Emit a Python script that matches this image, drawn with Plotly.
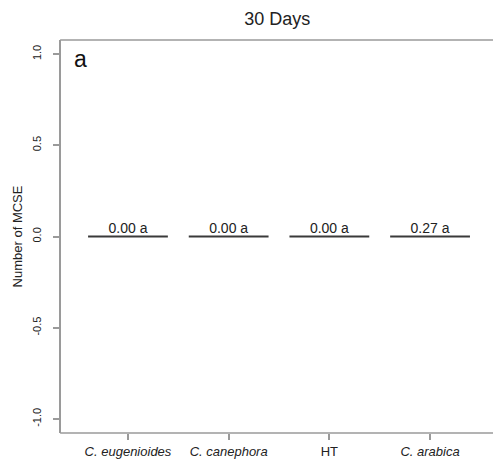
import plotly.graph_objects as go

categories = ["C. eugenioides", "C. canephora", "HT", "C. arabica"]
medians = [0.0, 0.0, 0.0, 0.0]
means = [0.00, 0.00, 0.00, 0.27]
letters = ["a", "a", "a", "a"]
ytick_vals = [-1.0, -0.5, 0.0, 0.5, 1.0]
ytick_text = ["-1.0", "-0.5", "0.0", "0.5", "1.0"]

FONT = "Liberation Sans, Arial, sans-serif"
AXIS_COL = "#9a9a9a"
TEXT_COL = "#222222"

labels = [f"{m:.2f} {l}" for m, l in zip(means, letters)]
xtick_text = [f"<i>{c}</i>" if c != "HT" else c for c in categories]

fig = go.Figure()
fig.add_trace(go.Scatter(
    x=categories, y=medians, mode="markers",
    marker=dict(symbol="line-ew", size=57, line=dict(color="#3a3a3a", width=2.2)),
    hoverinfo="skip", showlegend=False,
))
fig.add_trace(go.Scatter(
    x=categories, y=medians, mode="text", text=labels,
    textposition="top center",
    textfont=dict(family=FONT, size=14, color=TEXT_COL),
    hoverinfo="skip", showlegend=False,
))

fig.update_layout(
    width=493, height=465,
    margin=dict(l=61, r=0, t=40, b=32),
    plot_bgcolor="white", paper_bgcolor="white",
    font=dict(family=FONT, color=TEXT_COL),
    title=dict(text="30 Days", x=0.5625, xanchor="center", y=0.960, yanchor="middle",
               font=dict(family=FONT, size=18, color=TEXT_COL)),
    xaxis=dict(
        type="category", range=[-0.665, 3.625],
        tickvals=categories, ticktext=xtick_text,
        showline=False,
        ticks="outside", ticklen=6, tickcolor=AXIS_COL, tickwidth=1.5,
        showgrid=False, zeroline=False,
        tickfont=dict(family=FONT, size=13, color=TEXT_COL),
    ),
    yaxis=dict(
        range=[-1.077, 1.077],
        tickvals=ytick_vals, ticktext=ytick_text, tickangle=-90,
        showline=True, linecolor=AXIS_COL, linewidth=1.5, mirror=False,
        ticks="outside", ticklen=6, tickcolor=AXIS_COL, tickwidth=1.5,
        ticklabelstandoff=8,
        showgrid=False, zeroline=False,
        tickfont=dict(family=FONT, size=11, color=TEXT_COL),
        title=dict(text="Number of MCSE", standoff=5,
                   font=dict(family=FONT, size=13, color=TEXT_COL)),
    ),
    shapes=[
        dict(type="line", xref="paper", yref="paper", x0=-0.002, x1=1.02, y0=1, y1=1,
             line=dict(color=AXIS_COL, width=1.5)),
        dict(type="line", xref="paper", yref="paper", x0=-0.002, x1=1.02, y0=0, y1=0,
             line=dict(color=AXIS_COL, width=1.5)),
    ],
    annotations=[dict(
        text="a", xref="paper", yref="paper", x=0.025, y=0.99,
        xanchor="left", yanchor="top", showarrow=False,
        font=dict(family=FONT, size=23, color="#111111"),
    )],
)

fig.write_html("out.html")
